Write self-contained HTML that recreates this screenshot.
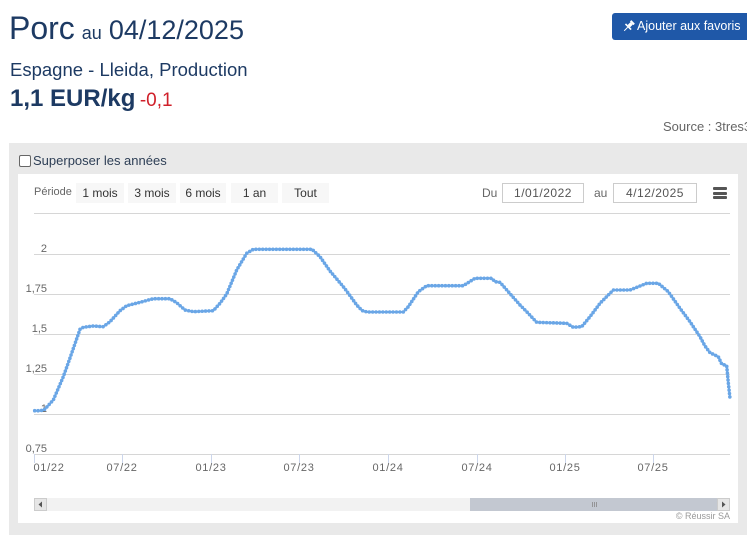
<!DOCTYPE html>
<html><head><meta charset="utf-8">
<style>
html,body{margin:0;padding:0;background:#fff;}
html{width:747px;height:535px;overflow:hidden;}
body{width:747px;height:535px;position:relative;overflow:hidden;font-family:"Liberation Sans",sans-serif;}
.a{position:absolute;white-space:nowrap;}
.btn{position:absolute;top:183px;height:20px;background:#f7f7f7;font-size:12px;color:#333;text-align:center;line-height:20px;}
.inp{position:absolute;top:183px;height:18px;border:1px solid #ccc;background:#fff;font-size:12px;color:#555;text-align:center;line-height:18px;letter-spacing:0.5px;}
</style></head><body>
<div class="a" style="left:9px;top:10px;color:#1d3a63;">
 <span style="font-size:32px;">Porc</span><span style="font-size:18px;margin-left:7px;">au</span><span style="font-size:27px;margin-left:7px;">04/12/2025</span>
</div>
<div class="a" style="left:10px;top:59px;font-size:18.5px;color:#1d3a63;">Espagne - Lleida, Production</div>
<div class="a" style="left:10px;top:85px;color:#1d3a63;"><span style="font-size:24px;font-weight:bold;">1,1 EUR/kg</span> <span style="font-size:19px;color:#d0202a;">-0,1</span></div>

<div class="a" style="left:612px;top:13px;width:140px;height:27px;background:#1f58a8;border-radius:3px;color:#fff;font-size:12.5px;line-height:27px;">
 <svg style="position:absolute;left:10px;top:7px" width="13" height="13" viewBox="0 0 13 13"><g transform="rotate(45 6.5 6.5)" fill="#fff"><rect x="4" y="0" width="5" height="2"/><rect x="4.8" y="2" width="3.4" height="4"/><rect x="2.5" y="6" width="8" height="1.6"/><rect x="6" y="7.6" width="1" height="5"/></g></svg>
 <span style="position:absolute;left:25px;">Ajouter aux favoris</span>
</div>
<div class="a" style="left:663px;top:119px;font-size:13px;color:#666;">Source : 3tres3</div>

<div class="a" style="left:9px;top:143px;width:760px;height:392px;background:#e9e9e9;"></div>
<div class="a" style="left:19px;top:155px;width:10px;height:10px;border:1px solid #666;border-radius:2px;background:#fff;"></div>
<div class="a" style="left:33px;top:153px;font-size:13px;color:#2d3e55;">Superposer les années</div>

<div class="a" style="left:18px;top:174px;width:720px;height:349px;background:#fff;"></div>

<div class="a" style="left:34px;top:186px;font-size:11px;color:#666;">Période</div>
<div class="btn" style="left:76px;width:48px;">1 mois</div>
<div class="btn" style="left:128px;width:48px;">3 mois</div>
<div class="btn" style="left:180px;width:46px;">6 mois</div>
<div class="btn" style="left:231px;width:47px;">1 an</div>
<div class="btn" style="left:282px;width:47px;">Tout</div>

<div class="a" style="left:482px;top:186px;font-size:12px;color:#666;">Du</div>
<div class="inp" style="left:502px;width:80px;">1/01/2022</div>
<div class="a" style="left:594px;top:186px;font-size:12px;color:#666;">au</div>
<div class="inp" style="left:613px;width:82px;">4/12/2025</div>
<div class="a" style="left:713px;top:187px;width:14px;height:3px;background:#555;border-radius:1px;"></div>
<div class="a" style="left:713px;top:191.5px;width:14px;height:3px;background:#555;border-radius:1px;"></div>
<div class="a" style="left:713px;top:196px;width:14px;height:3px;background:#555;border-radius:1px;"></div>

<svg class="a" style="left:0;top:0" width="747" height="535">
 <g stroke="#d6d6d6" stroke-width="1">
  <line x1="34" y1="213.5" x2="730" y2="213.5"/>
  <line x1="34" y1="254.5" x2="730" y2="254.5"/>
  <line x1="34" y1="294.5" x2="730" y2="294.5"/>
  <line x1="34" y1="334.5" x2="730" y2="334.5"/>
  <line x1="34" y1="374.5" x2="730" y2="374.5"/>
  <line x1="34" y1="414.5" x2="730" y2="414.5"/>
  <line x1="34" y1="454.5" x2="730" y2="454.5"/>
 </g>
 <g stroke="#ccd6eb" stroke-width="1">
  <line x1="34.5" y1="454" x2="34.5" y2="463"/>
  <line x1="122.5" y1="454" x2="122.5" y2="463"/>
  <line x1="211.5" y1="454" x2="211.5" y2="463"/>
  <line x1="299.5" y1="454" x2="299.5" y2="463"/>
  <line x1="388.5" y1="454" x2="388.5" y2="463"/>
  <line x1="477.5" y1="454" x2="477.5" y2="463"/>
  <line x1="565.5" y1="454" x2="565.5" y2="463"/>
  <line x1="653.5" y1="454" x2="653.5" y2="463"/>
 </g>
 <g font-family="Liberation Sans, sans-serif" font-size="11" fill="#666" text-anchor="end">
  <text x="47" y="252">2</text>
  <text x="47" y="292">1,75</text>
  <text x="47" y="332">1,5</text>
  <text x="47" y="372">1,25</text>
  <text x="47" y="412">1</text>
  <text x="47" y="452">0,75</text>
 </g>
 <g font-family="Liberation Sans, sans-serif" font-size="11" fill="#666" text-anchor="middle" letter-spacing="0.7">
  <text x="49" y="471">01/22</text>
  <text x="122" y="471">07/22</text>
  <text x="211" y="471">01/23</text>
  <text x="299" y="471">07/23</text>
  <text x="388" y="471">01/24</text>
  <text x="477" y="471">07/24</text>
  <text x="565" y="471">01/25</text>
  <text x="653" y="471">07/25</text>
 </g>
 <defs>
  <path id="s" d="M34.7,410.7 L40,410.7 44,410 53.3,400 63.3,376.7 70,358 80,329.3 83.3,327.3 93.3,326 103.3,326.7 110,321.7 120,310.7 126.7,305.7 140,302.3 153.3,298.7 170,298.7 176.7,302.7 185,310 193.3,311.7 213.3,310.7 220,303.3 226.7,294 236.7,270 246.7,253.3 253.3,249.3 312,249.3 320,256.7 330,271 343.3,286.7 348.3,293.3 356.7,305 362,310.5 367,312 403.3,312 408.3,306.7 418.3,291.7 426.7,285.7 463.3,285.7 475,278.3 491.7,278.3 495,281.7 500,282.3 520,305 526.7,311.7 536.7,322.3 566.7,323.3 573.3,327.3 581.7,326.7 590,316.7 600,303.3 613.3,290 630,290 638.3,286.7 646.7,283.3 658.3,283.3 668.3,291.7 680,308.3 690,321.7 700,336.7 705,346 710,352.7 718.3,356.7 721.7,364 726.7,365.7 728.3,382.7 730,398.3"/>
 </defs>
 <path d="M34.7,410.7 L40,410.7 44,410 53.3,400 63.3,376.7 70,358 80,329.3 83.3,327.3 93.3,326 103.3,326.7 110,321.7 120,310.7 126.7,305.7 140,302.3 153.3,298.7 170,298.7 176.7,302.7 185,310 193.3,311.7 213.3,310.7 220,303.3 226.7,294 236.7,270 246.7,253.3 253.3,249.3 312,249.3 320,256.7 330,271 343.3,286.7 348.3,293.3 356.7,305 362,310.5 367,312 403.3,312 408.3,306.7 418.3,291.7 426.7,285.7 463.3,285.7 475,278.3 491.7,278.3 495,281.7 500,282.3 520,305 526.7,311.7 536.7,322.3 566.7,323.3 573.3,327.3 581.7,326.7 590,316.7 600,303.3 613.3,290 630,290 638.3,286.7 646.7,283.3 658.3,283.3 668.3,291.7 680,308.3 690,321.7 700,336.7 705,346 710,352.7 718.3,356.7 721.7,364 726.7,365.7 728.3,382.7 730,398.3" fill="none" stroke="#7cb5ec" stroke-width="2" stroke-linejoin="round"/>
 <path d="M34.7,410.7 L40,410.7 44,410 53.3,400 63.3,376.7 70,358 80,329.3 83.3,327.3 93.3,326 103.3,326.7 110,321.7 120,310.7 126.7,305.7 140,302.3 153.3,298.7 170,298.7 176.7,302.7 185,310 193.3,311.7 213.3,310.7 220,303.3 226.7,294 236.7,270 246.7,253.3 253.3,249.3 312,249.3 320,256.7 330,271 343.3,286.7 348.3,293.3 356.7,305 362,310.5 367,312 403.3,312 408.3,306.7 418.3,291.7 426.7,285.7 463.3,285.7 475,278.3 491.7,278.3 495,281.7 500,282.3 520,305 526.7,311.7 536.7,322.3 566.7,323.3 573.3,327.3 581.7,326.7 590,316.7 600,303.3 613.3,290 630,290 638.3,286.7 646.7,283.3 658.3,283.3 668.3,291.7 680,308.3 690,321.7 700,336.7 705,346 710,352.7 718.3,356.7 721.7,364 726.7,365.7 728.3,382.7 730,398.3" fill="none" stroke="#6aa6e6" stroke-width="3.6" stroke-dasharray="0 3.4" stroke-linecap="round"/>
 <!-- scrollbar -->
 <rect x="34" y="498" width="696" height="13" fill="#f2f2f2"/>
 <rect x="34.5" y="498.5" width="12" height="12" fill="#e6e6e6" stroke="#cccccc"/>
 <path d="M42,501.5 L38.5,504.5 42,507.5Z" fill="#555"/>
 <rect x="470" y="498" width="248" height="13" fill="#c3c8d1"/>
 <g stroke="#888" stroke-width="0.8"><line x1="592.5" y1="502" x2="592.5" y2="507"/><line x1="594.5" y1="502" x2="594.5" y2="507"/><line x1="596.5" y1="502" x2="596.5" y2="507"/></g>
 <rect x="717.5" y="498.5" width="12" height="12" fill="#e6e6e6" stroke="#cccccc"/>
 <path d="M722,501.5 L725.5,504.5 722,507.5Z" fill="#555"/>
 <text x="730" y="519" font-family="Liberation Sans, sans-serif" font-size="9" fill="#999" text-anchor="end">© Réussir SA</text>
</svg>
</body></html>
